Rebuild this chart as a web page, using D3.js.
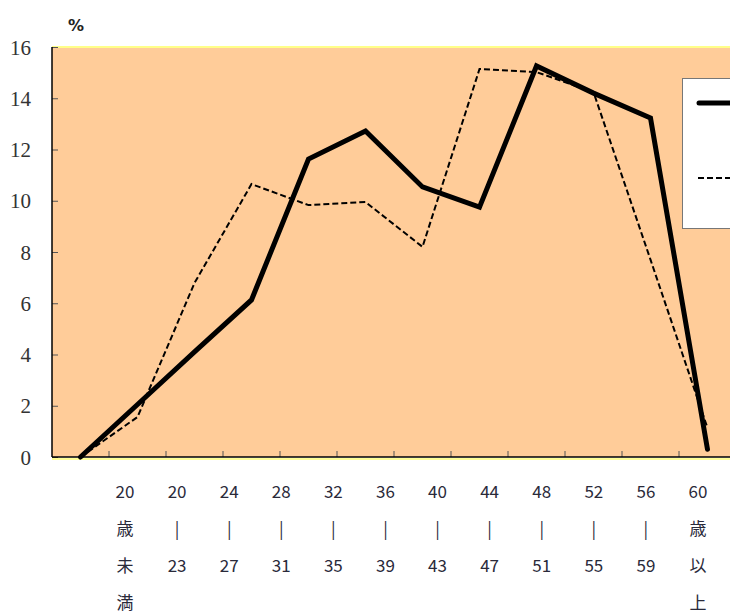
<!DOCTYPE html>
<meta charset="utf-8">
<head>
<style>
  body { margin: 0; background: #fff; overflow: hidden; }
</style>
</head>
<script src="https://d3js.org/d3.v7.min.js"></script>
<body>
<div id="chart"></div>
</body>
<script>

    // age groups (label lines stacked vertically)
    var ageGroups = [
      ["20", "歳", "未", "満"],
      ["20", "|", "23"],
      ["24", "|", "27"],
      ["28", "|", "31"],
      ["32", "|", "35"],
      ["36", "|", "39"],
      ["40", "|", "43"],
      ["44", "|", "47"],
      ["48", "|", "51"],
      ["52", "|", "55"],
      ["56", "|", "59"],
      ["60", "歳", "以", "上"]
    ];

    // share of each age group (%)
    var seriesSolid  = [0, 2.05, 4.1, 6.13, 11.63, 12.72, 10.54, 9.75, 15.26, 14.2, 13.23, 0.3];
    var seriesDashed = [0, 1.56, 6.79, 10.65, 9.83, 9.95, 8.2, 15.14, 15.02, 14.24, 7.7, 1.13];

    var yTicks = [0, 2, 4, 6, 8, 10, 12, 14, 16];

    var width = 730, height = 615;
    var plot = {left: 52, top: 47, right: 736, bottom: 457};

    var svg = d3.select("#chart")
      .append("svg")
        .attr("width", width)
        .attr("height", height);

    var idx = d3.range(ageGroups.length);

    var x = d3.scaleBand()
      .domain(idx)
      .range([plot.left, plot.right]);

    // the category text sits on its own, narrower spread
    var xLabel = d3.scalePoint()
      .domain(idx)
      .range([125, 698]);

    var y = d3.scaleLinear()
      .domain([0, 16])
      .range([plot.bottom, plot.top]);

    // plot background
    svg.append("rect")
      .attr("x", plot.left)
      .attr("y", plot.top)
      .attr("width", plot.right - plot.left)
      .attr("height", plot.bottom - plot.top)
      .attr("fill", "#ffcc99");

    // yellow edge on top and below the axis
    svg.append("line")
      .attr("x1", plot.left).attr("x2", width)
      .attr("y1", plot.top).attr("y2", plot.top)
      .attr("stroke", "#ffff88").attr("stroke-width", 2);
    svg.append("line")
      .attr("x1", plot.left).attr("x2", width)
      .attr("y1", plot.bottom + 2).attr("y2", plot.bottom + 2)
      .attr("stroke", "#ffff99").attr("stroke-width", 2);

    // y axis: ticks point inside
    var yAxis = svg.append("g")
      .attr("transform", "translate(" + plot.left + ",0)")
      .call(d3.axisRight(y).tickValues(yTicks).tickSize(6).tickFormat(""));
    yAxis.select(".domain").remove();
    yAxis.selectAll(".tick line").attr("stroke", "#555");

    svg.append("g")
      .selectAll("text")
      .data(yTicks)
      .enter()
      .append("text")
        .attr("x", 31)
        .attr("y", function(d) { return y(d); })
        .attr("dy", "0.36em")
        .attr("text-anchor", "end")
        .style("font-family", "'Liberation Serif', serif")
        .style("font-size", "21px")
        .style("fill", "#333")
        .text(function(d) { return d; });

    // x axis ticks at category boundaries, pointing up
    svg.append("g")
      .selectAll("line")
      .data(idx.slice(1))
      .enter()
      .append("line")
        .attr("x1", function(d) { return x(d); })
        .attr("x2", function(d) { return x(d); })
        .attr("y1", plot.bottom)
        .attr("y2", plot.bottom - 6)
        .attr("stroke", "#555");

    // axis lines
    svg.append("line")
      .attr("x1", plot.left).attr("x2", plot.left)
      .attr("y1", plot.top).attr("y2", plot.bottom)
      .attr("stroke", "#000").attr("stroke-width", 1.5);
    svg.append("line")
      .attr("x1", plot.left).attr("x2", width)
      .attr("y1", plot.bottom).attr("y2", plot.bottom)
      .attr("stroke", "#000").attr("stroke-width", 1.5);

    // category labels
    var lineGap = 37;
    svg.append("g")
      .selectAll("g")
      .data(idx)
      .enter()
      .append("g")
      .each(function(i) {
        d3.select(this).selectAll("text")
          .data(ageGroups[i])
          .enter()
          .append("text")
            .attr("x", xLabel(i))
            .attr("y", function(d, k) { return 492 + k * lineGap; })
            .attr("dy", "0.36em")
            .attr("text-anchor", "middle")
            .style("font-family", "'Noto Sans CJK JP', 'DejaVu Sans', sans-serif")
            .style("font-size", "17px")
            .style("fill", "#2a2a3a")
            .text(function(d) { return d; });
      });

    // lines
    var line = d3.line()
      .x(function(d, i) { return x(i) + x.bandwidth() / 2; })
      .y(function(d) { return y(d); });

    svg.append("path")
      .datum(seriesDashed)
      .attr("d", line)
      .attr("fill", "none")
      .attr("stroke", "#000")
      .attr("stroke-width", 2)
      .attr("stroke-dasharray", "6,3");

    svg.append("path")
      .datum(seriesSolid)
      .attr("d", line)
      .attr("fill", "none")
      .attr("stroke", "#000")
      .attr("stroke-width", 5)
      .attr("stroke-linejoin", "miter")
      .attr("stroke-linecap", "round");

    // legend box (cut at the right edge)
    var legend = svg.append("g");
    legend.append("rect")
      .attr("x", 682.5).attr("y", 78.5)
      .attr("width", 70).attr("height", 150)
      .attr("fill", "#fff")
      .attr("stroke", "#777");
    legend.append("line")
      .attr("x1", 699).attr("x2", 740)
      .attr("y1", 103).attr("y2", 103)
      .attr("stroke", "#000").attr("stroke-width", 5)
      .attr("stroke-linecap", "round");
    legend.append("line")
      .attr("x1", 698).attr("x2", 740)
      .attr("y1", 178).attr("y2", 178)
      .attr("stroke", "#000").attr("stroke-width", 2)
      .attr("stroke-dasharray", "6,3");

    // unit label
    svg.append("text")
      .attr("x", 76)
      .attr("y", 25)
      .attr("dy", "0.36em")
      .attr("text-anchor", "middle")
      .style("font-family", "'DejaVu Sans', sans-serif")
      .style("font-weight", "bold")
      .style("font-size", "16px")
      .style("fill", "#222")
      .text("%");

</script>
